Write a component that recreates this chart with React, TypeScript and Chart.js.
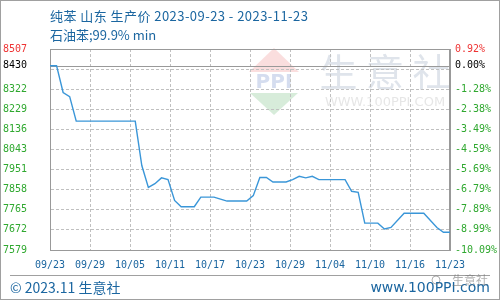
import React, { useEffect, useRef } from "react";
import { Chart, registerables } from "chart.js";
Chart.register(...registerables);

// day offsets from 2023-09-23 and price (yuan/ton) at each vertex
const days = [0, 1, 2, 3, 4, 13, 14, 15, 16, 17, 18, 19, 20, 22, 23, 25, 26, 27, 30, 31, 32, 33, 34, 36, 37, 38, 39, 40, 41, 45, 46, 47, 48, 50, 51, 52, 54, 57, 59, 60, 61];
const prices = [8430, 8430, 8306, 8287, 8174, 8174, 7969, 7868, 7885, 7912, 7904, 7808, 7779, 7779, 7823, 7823, 7814, 7805, 7805, 7830, 7914, 7914, 7893, 7893, 7904, 7919, 7912, 7919, 7904, 7904, 7850, 7845, 7703, 7703, 7676, 7683, 7749, 7749, 7683, 7661, 7661];

const xTickDays = [0, 6.1, 12.2, 18.3, 24.4, 30.5, 36.6, 42.7, 48.8, 54.9, 61];
const xTickLabels = ["09/23", "09/29", "10/05", "10/11", "10/17", "10/23", "10/29", "11/04", "11/10", "11/16", "11/23"];

const yMin = 7579;
const yMax = 8507;
const basePrice = 8430;
const yTickValues = [7579, 7671.8, 7764.6, 7857.4, 7950.2, 8043, 8135.8, 8228.6, 8321.4, 8414.2, 8507, 8430];
const leftTickLabels = ["7579", "7672", "7765", "7858", "7951", "8043", "8136", "8229", "8322", "", "8507", "8430"];
const rightTickLabels = ["-10.09%", "-8.99%", "-7.89%", "-6.79%", "-5.69%", "-4.59%", "-3.49%", "-2.38%", "-1.28%", "", "0.92%", "0.00%"];

const titleText = "纯苯 山东 生产价 2023-09-23 - 2023-11-23";
const subTitleText = "石油苯;99.9% min";
const footerLeft = "© 2023.11 生意社";
const footerRight = "www.100PPI.com";

const BLUE = "#1b66a0";
const RED = "#ee3333";
const GREEN = "#2fa82f";
const GRID = "#c0c0c0";
const MONO = "'DejaVu Sans Mono', monospace";
const CJK = "'Noto Sans CJK SC', 'Noto Sans', sans-serif";

function tickColor(ctx: any) {
  const v = ctx.tick ? ctx.tick.value : 0;
  if (v === yMax) return RED;
  if (v === basePrice) return "#000";
  return GREEN;
}

const decorPlugin = {
  id: "decor",
  beforeDraw(chart: any) {
    const c = chart.ctx as any;
    const W = chart.width, H = chart.height;
    c.save();
    c.fillStyle = "#fff";
    c.fillRect(0, 0, W, H);
    c.strokeStyle = "#a0a0a0";
    c.lineWidth = 1;
    c.strokeRect(0.5, 0.5, W - 1, H - 1);
    // titles
    c.fillStyle = BLUE;
    c.textBaseline = "middle";
    c.textAlign = "left";
    c.font = `13px ${CJK}`;
    c.letterSpacing = "0.45px";
    c.fillText(titleText, 50, 16);
    c.letterSpacing = "0px";
    c.fillText(subTitleText, 50, 35);
    // watermark logo
    c.fillStyle = "rgba(240,160,160,0.35)";
    c.beginPath();
    c.moveTo(274, 48); c.lineTo(299, 72); c.lineTo(249, 72); c.closePath(); c.fill();
    c.fillStyle = "rgba(140,200,150,0.35)";
    c.beginPath();
    c.moveTo(250, 93); c.lineTo(298, 93); c.lineTo(274, 115); c.closePath(); c.fill();
    c.fillStyle = "rgba(150,170,215,0.4)";
    c.font = `bold 20px 'DejaVu Sans', sans-serif`;
    c.textAlign = "center";
    c.fillText("PPI", 274, 83);
    c.fillStyle = "rgba(185,195,210,0.45)";
    c.font = `38px ${CJK}`;
    c.fillText("生 意 社", 385, 72);
    c.fillStyle = "rgba(200,200,200,0.45)";
    c.font = `13px 'DejaVu Sans', sans-serif`;
    c.fillText("WWW.100PPI.COM", 385, 103);
    // footer
    c.strokeStyle = "#a0a0a0";
    c.beginPath();
    c.moveTo(10, 275.5); c.lineTo(490, 275.5); c.stroke();
    c.fillStyle = BLUE;
    c.font = `14px ${CJK}`;
    c.textAlign = "left";
    c.fillText(footerLeft, 10, 288);
    c.textAlign = "right";
    c.font = `14px 'DejaVu Sans', sans-serif`;
    c.fillText(footerRight, 490, 288);
    // small corner watermark
    c.fillStyle = "rgba(110,110,110,0.55)";
    c.font = `12px ${CJK}`;
    c.textAlign = "left";
    c.fillText("生意社", 452, 280);
    c.strokeStyle = "rgba(110,110,110,0.55)";
    c.beginPath(); c.arc(436, 280, 4, 0, Math.PI * 2); c.stroke();
    c.restore();
  },
  beforeDatasetsDraw(chart: any) {
    const c = chart.ctx as CanvasRenderingContext2D;
    const a = chart.chartArea;
    const y = Math.round(chart.scales.y.getPixelForValue(basePrice)) + 0.5;
    c.save();
    c.strokeStyle = "#999";
    c.lineWidth = 1;
    c.beginPath();
    c.moveTo(a.left, y); c.lineTo(a.right, y); c.stroke();
    c.strokeRect(a.left + 0.5, a.top + 0.5, a.right - a.left - 1, a.bottom - a.top);
    c.restore();
  },
};

export default function App() {
  const ref = useRef<HTMLCanvasElement>(null);
  useEffect(() => {
    if (!ref.current) return;
    const setYTicks = (s: any) => {
      s.ticks = yTickValues.map((v) => ({ value: v }));
    };
    const chart = new Chart(ref.current, {
      type: "line",
      data: {
        datasets: [
          {
            data: days.map((d, i) => ({ x: d, y: prices[i] })),
            borderColor: "#3a96d8",
            borderWidth: 1.4,
            pointRadius: 0,
            tension: 0,
            fill: false,
          },
        ],
      },
      options: {
        animation: false,
        responsive: false,
        maintainAspectRatio: false,
        layout: { padding: { top: 49, left: 0, right: 0, bottom: 0 } },
        plugins: { legend: { display: false }, tooltip: { enabled: false }, title: { display: false } },
        scales: {
          x: {
            type: "linear",
            min: 0,
            max: 61,
            afterBuildTicks: (s: any) => {
              s.ticks = xTickDays.map((v) => ({ value: v }));
            },
            afterFit: (s: any) => {
              s.height = 50;
            },
            ticks: {
              autoSkip: false,
              maxRotation: 0,
              padding: 9,
              color: BLUE,
              font: { family: MONO, size: 10 },
              callback: (_v: any, i: number) => xTickLabels[i],
            },
            grid: { color: GRID, drawTicks: false, lineWidth: 1 },
            border: { color: "#999", dash: [3, 2] },
          },
          y: {
            type: "linear",
            position: "left",
            min: yMin,
            max: yMax,
            afterBuildTicks: setYTicks,
            afterFit: (s: any) => {
              s.width = 50;
            },
            ticks: {
              autoSkip: false,
              padding: 23,
              color: tickColor,
              font: { family: MONO, size: 10 },
              callback: (_v: any, i: number) => leftTickLabels[i],
            },
            grid: {
              color: (ctx: any) => (ctx.tick && ctx.tick.value === basePrice ? "rgba(0,0,0,0)" : GRID),
              drawTicks: false,
            },
            border: { color: "#999", dash: [3, 2] },
          },
          y2: {
            type: "linear",
            position: "right",
            min: yMin,
            max: yMax,
            afterBuildTicks: setYTicks,
            afterFit: (s: any) => {
              s.width = 50;
            },
            ticks: {
              autoSkip: false,
              padding: 5,
              color: tickColor,
              font: { family: MONO, size: 10 },
              callback: (_v: any, i: number) => rightTickLabels[i],
            },
            grid: { drawOnChartArea: false, drawTicks: false },
            border: { color: "#999" },
          },
        },
      },
      plugins: [decorPlugin],
    } as any);
    return () => chart.destroy();
  }, []);
  return (
    <div style={{ position: "fixed", left: 0, top: 0, width: 500, height: 300 }}>
      <canvas ref={ref} width={500} height={300} style={{ width: 500, height: 300 }} />
    </div>
  );
}
